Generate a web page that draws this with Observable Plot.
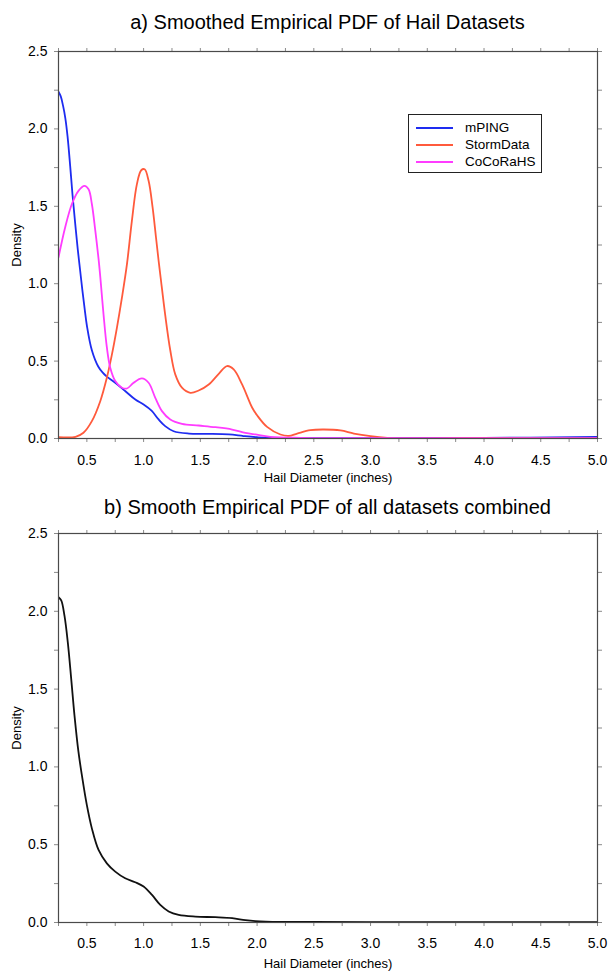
<!DOCTYPE html>
<html>
<head>
<meta charset="utf-8">
<script src="https://cdn.jsdelivr.net/npm/d3@7"></script>
<script src="https://cdn.jsdelivr.net/npm/@observablehq/plot@0.6"></script>
<style>
  html, body { margin: 0; padding: 0; background: #fff; }
  #page { position: relative; width: 608px; height: 971px; font-family: "Liberation Sans", Arial, Helvetica, sans-serif; color: #000; }
  .title { position: absolute; left: 58px; width: 539px; text-align: center; font-size: 20px; line-height: 24px; }
  .chart { position: absolute; left: 0; }
  #legend { position: absolute; left: 408px; top: 114px; width: 132px; height: 57px; border: 1.3px solid #222; background: #fff; }
  .lrow { position: absolute; left: 0; height: 17px; width: 132px; font-size: 13.5px; line-height: 17px; }
  .lrow span.sw { position: absolute; left: 7px; top: 8px; width: 37px; height: 2px; }
  .lrow span.tx { position: absolute; left: 56px; top: 0; }
</style>
</head>
<body>
<div id="page">
  <div class="title" style="top:10px">a) Smoothed Empirical PDF of Hail Datasets</div>
  <div id="c1" class="chart" style="top:40px"></div>
  <div class="title" style="top:495px">b) Smooth Empirical PDF of all datasets combined</div>
  <div id="c2" class="chart" style="top:520px"></div>
</div>
<script>
// ---- Data ----
const seriesNames = ["mPING", "StormData", "CoCoRaHS"];
const seriesColors = ["#1e2cf0", "#ff5a3c", "#ff3cff"];

const mpingX = [0.25, 0.27, 0.29, 0.31, 0.33, 0.353, 0.374, 0.397, 0.42, 0.44, 0.46, 0.48, 0.50, 0.544, 0.60, 0.64, 0.676, 0.75, 0.84, 0.93, 1.0, 1.07, 1.13, 1.19, 1.265, 1.40, 1.55, 1.75, 1.88, 2.0, 2.1, 2.5, 3.0, 4.0, 5.0];
const mpingD = [2.24, 2.21, 2.15, 2.07, 1.95, 1.76, 1.57, 1.39, 1.22, 1.09, 0.96, 0.84, 0.73, 0.57, 0.465, 0.425, 0.400, 0.36, 0.305, 0.25, 0.22, 0.18, 0.125, 0.08, 0.047, 0.032, 0.030, 0.026, 0.016, 0.008, 0.004, 0.003, 0.003, 0.004, 0.010];

const stormX = [0.25, 0.40, 0.47, 0.544, 0.618, 0.676, 0.721, 0.765, 0.809, 0.853, 0.897, 0.941, 0.979, 1.009, 1.044, 1.079, 1.109, 1.132, 1.15, 1.19, 1.235, 1.279, 1.338, 1.412, 1.485, 1.574, 1.662, 1.735, 1.794, 1.868, 1.956, 2.0, 2.088, 2.206, 2.28, 2.353, 2.47, 2.588, 2.735, 2.853, 3.0, 3.147, 3.26, 3.5, 4.0, 4.5, 5.0];
const stormD = [0.009, 0.011, 0.037, 0.112, 0.241, 0.392, 0.543, 0.716, 0.91, 1.125, 1.408, 1.643, 1.733, 1.739, 1.665, 1.494, 1.30, 1.15, 1.04, 0.80, 0.57, 0.414, 0.328, 0.295, 0.31, 0.349, 0.418, 0.468, 0.446, 0.349, 0.20, 0.15, 0.075, 0.026, 0.017, 0.032, 0.054, 0.058, 0.052, 0.032, 0.015, 0.004, 0.001, 0.001, 0.004, 0.002, 0.003];

const cocoX = [0.25, 0.309, 0.368, 0.426, 0.479, 0.515, 0.544, 0.574, 0.603, 0.62, 0.647, 0.676, 0.706, 0.75, 0.809, 0.853, 0.912, 0.985, 1.044, 1.103, 1.162, 1.235, 1.338, 1.485, 1.632, 1.78, 1.897, 1.985, 2.118, 2.38, 3.0, 4.0, 5.0];
const cocoD = [1.17, 1.365, 1.515, 1.60, 1.632, 1.61, 1.515, 1.344, 1.16, 1.03, 0.80, 0.59, 0.457, 0.371, 0.328, 0.323, 0.36, 0.388, 0.36, 0.263, 0.177, 0.123, 0.095, 0.084, 0.073, 0.058, 0.037, 0.026, 0.011, 0.004, 0.002, 0.002, 0.002];

const allX = [0.25, 0.274, 0.303, 0.332, 0.362, 0.391, 0.426, 0.456, 0.5, 0.544, 0.603, 0.676, 0.75, 0.838, 0.926, 1.0, 1.074, 1.147, 1.221, 1.309, 1.456, 1.632, 1.78, 1.897, 1.985, 2.2, 2.5, 3.0, 4.0, 5.0];
const allD = [2.09, 2.07, 1.97, 1.80, 1.566, 1.33, 1.096, 0.947, 0.754, 0.605, 0.466, 0.38, 0.327, 0.284, 0.259, 0.231, 0.177, 0.113, 0.071, 0.049, 0.038, 0.034, 0.028, 0.015, 0.009, 0.004, 0.004, 0.002, 0.002, 0.002];

const xMajorTicks = [0.5, 1.0, 1.5, 2.0, 2.5, 3.0, 3.5, 4.0, 4.5, 5.0];
const xAllTicks = [0.25, 0.5, 0.75, 1.0, 1.25, 1.5, 1.75, 2.0, 2.25, 2.5, 2.75, 3.0, 3.25, 3.5, 3.75, 4.0, 4.25, 4.5, 4.75, 5.0];
const yMajorTicks = [0.0, 0.5, 1.0, 1.5, 2.0, 2.5];
const yAllTicks = [0.0, 0.25, 0.5, 0.75, 1.0, 1.25, 1.5, 1.75, 2.0, 2.25, 2.5];
const xTitle = "Hail Diameter (inches)";
const yTitle = "Density";

// ---- Build tables ----
const toRows = (xs, ds, name) => xs.map((x, i) => ({x, d: ds[i], series: name}));
const topData = [
  ...toRows(mpingX, mpingD, "mPING"),
  ...toRows(stormX, stormD, "StormData"),
  ...toRows(cocoX, cocoD, "CoCoRaHS")
];
const botData = toRows(allX, allD, "All");

function panel(data, opts) {
  const fmt = d3.format(".1f");
  const blank = () => "";
  return Plot.plot({
    width: 608,
    height: opts.height,
    marginLeft: 58,
    marginRight: 11,
    marginTop: opts.marginTop,
    marginBottom: opts.marginBottom,
    style: {fontFamily: '"Liberation Sans", Arial, Helvetica, sans-serif', fontSize: "14px", color: "#000", background: "transparent"},
    x: {domain: [0.25, 5.0], label: null},
    y: {domain: [0, 2.5], label: null},
    color: {domain: opts.names, range: opts.colors},
    marks: [
      Plot.axisX(xAllTicks, {anchor: "bottom", tickSize: 4, tickFormat: blank, stroke: "#8a8a8a", label: null}),
      Plot.axisX(xAllTicks, {anchor: "top", tickSize: 4, tickFormat: blank, stroke: "#8a8a8a", label: null}),
      Plot.axisY(yAllTicks, {anchor: "left", tickSize: 4, tickFormat: blank, stroke: "#8a8a8a", label: null}),
      Plot.axisY(yAllTicks, {anchor: "right", tickSize: 4, tickFormat: blank, stroke: "#8a8a8a", label: null}),
      Plot.axisX(xMajorTicks, {anchor: "bottom", tickSize: 0, tickPadding: opts.xPad, tickFormat: fmt, fill: "#000", fontSize: 14, label: null}),
      Plot.axisY(yMajorTicks, {anchor: "left", tickSize: 0, tickPadding: 11, tickFormat: fmt, fill: "#000", fontSize: 14, label: null}),
      Plot.lineY(data, {x: "x", y: "d", z: "series", stroke: "series", strokeWidth: 1.8, curve: "catmull-rom", clip: true}),
      Plot.frame({stroke: "#4a4a4a", strokeWidth: 1.2}),
      Plot.text([xTitle], {frameAnchor: "bottom", dy: opts.xLabelDy, text: d => d, fontSize: 13, textAnchor: "middle", lineAnchor: "middle"}),
      Plot.text([yTitle], {frameAnchor: "left", dx: -42, rotate: -90, text: d => d, fontSize: 13, textAnchor: "middle", lineAnchor: "middle"})
    ]
  });
}

document.getElementById("c1").append(panel(topData, {
  height: 450, marginTop: 11, marginBottom: 52, xPad: 17, xLabelDy: 39,
  names: seriesNames, colors: seriesColors
}));
document.getElementById("c2").append(panel(botData, {
  height: 451, marginTop: 13, marginBottom: 49, xPad: 16, xLabelDy: 41,
  names: ["All"], colors: ["#111111"]
}));

// ---- Legend (top panel) ----
const legend = document.createElement("div");
legend.id = "legend";
seriesNames.forEach((name, i) => {
  const row = document.createElement("div");
  row.className = "lrow";
  row.style.top = (4 + i * 17) + "px";
  const sw = document.createElement("span");
  sw.className = "sw";
  sw.style.background = seriesColors[i];
  const tx = document.createElement("span");
  tx.className = "tx";
  tx.textContent = name;
  row.append(sw, tx);
  legend.append(row);
});
document.getElementById("page").append(legend);
</script>
</body>
</html>
